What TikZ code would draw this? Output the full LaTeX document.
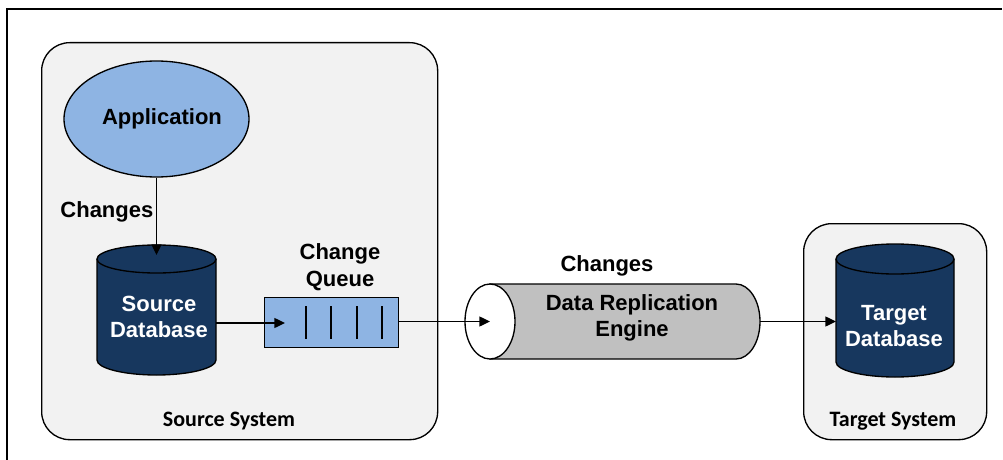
\documentclass[tikz,border=0pt]{standalone}
\usepackage{fontspec}
\setmainfont{Liberation Sans}
\newfontfamily\calib{Carlito}
\usetikzlibrary{arrows.meta,shapes.geometric}
\definecolor{boxbg}{HTML}{F2F2F2}
\definecolor{appblue}{HTML}{8EB4E3}
\definecolor{dbblue}{HTML}{17375E}
\definecolor{engrey}{HTML}{C0C0C0}
\begin{document}
\begin{tikzpicture}[x=0.75pt,y=-0.75pt, line width=1pt,
  lbl/.style={font=\bfseries\fontsize{16.5}{20}\selectfont, align=center, inner sep=0},
  syslbl/.style={font=\calib\bfseries\fontsize{16.5}{19}\selectfont, inner sep=0},
  conn/.style={-{Triangle[length=8pt,width=7.5pt]}},
  sysbox/.style={draw, fill=boxbg, rounded corners=21pt, line width=1pt, inner sep=0},
  hidden/.style={inner sep=0, outer sep=0}]
\useasboundingbox (0,0) rectangle (1003,460);
\draw (7,460) -- (7,9) -- (1002,9);

% system boxes
\node (srcsys) [sysbox, minimum width=297pt, minimum height=297.75pt, anchor=north west] at (41,42) {};
\node (tgtsys) [sysbox, minimum width=137.25pt, minimum height=162pt, anchor=north west] at (803,223) {};
\node[syslbl] (srcsyslbl) at (229,421) {Source System};
\node[syslbl] (tgtsyslbl) at (893,421) {Target System};

% application
\node (app) [ellipse, draw, fill=appblue, minimum width=138.75pt, minimum height=87pt, inner sep=0] at (156.5,119) {};
\node[lbl] (applbl) at (162,119) {Application};

% source database
\node (srcdb) [hidden, minimum width=89.25pt, minimum height=97.5pt] at (156.5,310) {};
\draw[fill=dbblue] (97,259) -- (97,360) arc[start angle=180, end angle=0, x radius=59.5, y radius=15]
  -- (216,259) arc[start angle=0, end angle=-180, x radius=59.5, y radius=14] -- cycle;
\draw (97,259) arc[start angle=180, end angle=0, x radius=59.5, y radius=14];
\node[lbl, text=white] (srcdblbl) at (159,317) {Source\\Database};

\coordinate (dbtip) at (156.5,255);
\draw[conn] (app.south) -- (dbtip);
\node[lbl, anchor=east] (chg1) at (154,212) {Changes};

% queue
\node (queue) [draw, fill=appblue, minimum width=100.5pt, minimum height=37.5pt, anchor=north west, inner sep=0] at (264,297) {};
\foreach \x in {306,331,357,382} \draw (\x,306) -- (\x,339);
\node[lbl] (qlbl) at (340,267) {Change\\Queue};
\coordinate (qin) at (285,323);
\draw[conn] (srcdb.east |- qin) -- (qin);

% engine
\node (engine) [hidden, minimum width=220.5pt, minimum height=56.25pt] at (613,321.5) {};
\draw[fill=engrey] (490,284) -- (736,284) arc[start angle=-90, end angle=90, x radius=24, y radius=37.5] -- (490,359) -- cycle;
\draw[fill=white] (490,321.5) ellipse [x radius=25, y radius=37.5];
\node[lbl] (englbl) at (632,318) {Data Replication\\Engine};
\node[lbl] (chg2) at (607,266) {Changes};
\coordinate (ein) at (490,321.5);
\draw[conn] (queue.east |- ein) -- (ein);

% target database
\node (tgtdb) [hidden, minimum width=88.5pt, minimum height=99.75pt] at (895,310.5) {};
\draw[fill=dbblue] (836,259) -- (836,362) arc[start angle=180, end angle=0, x radius=59, y radius=15]
  -- (954,259) arc[start angle=0, end angle=-180, x radius=59, y radius=15] -- cycle;
\draw (836,259) arc[start angle=180, end angle=0, x radius=59, y radius=15];
\node[lbl, text=white] (tgtdblbl) at (894,326) {Target\\Database};
\draw[conn] (engine.east) -- (engine.east -| tgtdb.west);
\end{tikzpicture}
\end{document}
